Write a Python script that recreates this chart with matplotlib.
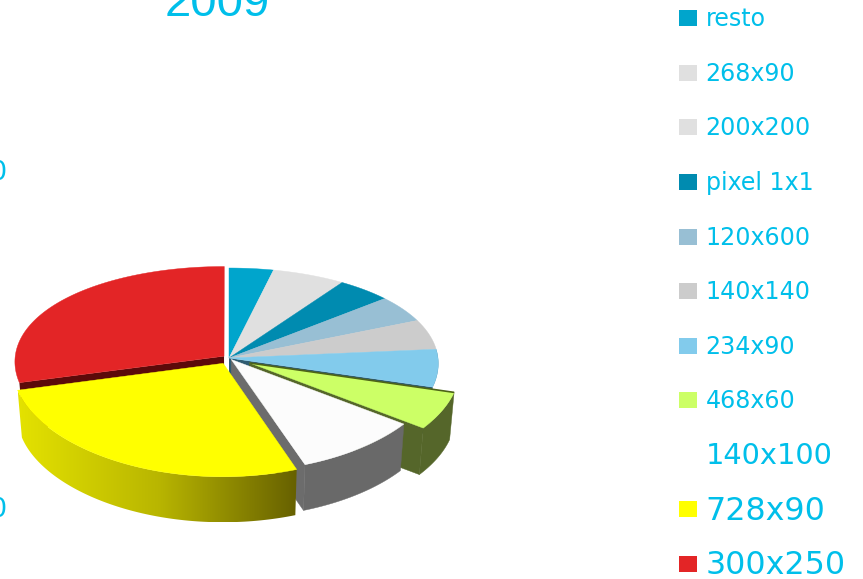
import numpy as np
import matplotlib
matplotlib.use("Agg")
import matplotlib.pyplot as plt
from matplotlib.colors import LinearSegmentedColormap
from matplotlib.patches import Polygon, Rectangle

# ---- data (clockwise from 12 o'clock) ----
labels = ["resto", "268x90", "200x200", "pixel 1x1", "120x600", "140x140", "234x90", "468x60", "140x100", "728x90", "300x250"]
shares = [3.6, 5.97, 0.0, 4.44, 4.58, 5.0, 5.97, 5.74, 9.28, 26.25, 29.17]
explode = [0, 0, 0, 0, 0, 0, 0, 0.11, 0.018, 0.06, 0.03]
top_colors = ["#00A5CC", "#E0E0E0", "#E0E0E0", "#008BB0", "#98BFD4", "#CCCCCC", "#82CBEC", "#CCFF66", "#FCFCFC", "#FFFF00", "#E32526"]
legend_swatches = ["#00A5CC", "#E0E0E0", "#E0E0E0", "#008BB0", "#98BFD4", "#CCCCCC", "#82CBEC", "#CCFF66", "#FFFFFF", "#FFFF00", "#E32526"]
legend_sizes = [17.1, 17.1, 17.1, 17.1, 17.1, 17.1, 17.1, 17.1, 20.8, 22.9, 22.9]
legend_y = [18, 73, 127, 182, 237, 291, 346, 400, 455, 509, 564]
title = "2009"
TEXT = "#00BFEA"

W, H = 863, 579
CX, CY, RX, RY = 229, 358, 209, 99.8
K, KX, DEPTH, BOTTOM = 0.109, 0.055, 0.48, 0.98

fig = plt.figure(figsize=(W / 100, H / 100), dpi=100)
ax = fig.add_axes([0, 0, 1, 1])
ax.set_xlim(-CX / RX, (W - CX) / RX)
ax.set_ylim(-(H - CY) / RY, CY / RY)
ax.axis("off")

edges = np.radians(np.concatenate([[0], np.cumsum(shares)]) * 3.6)


def project(X, Y, low=False):
    Y = np.asarray(Y)
    x, y = np.asarray(X) / (1 + KX * Y), Y / (1 + K * Y)
    return (x * BOTTOM, y * BOTTOM - DEPTH) if low else (x, y)


def slice_offset(i):
    mid = (edges[i] + edges[i + 1]) / 2
    return explode[i] * np.sin(mid), explode[i] * np.cos(mid)


def rim(i, a0=None, a1=None, low=False):
    ox, oy = slice_offset(i)
    t = np.linspace(edges[i] if a0 is None else a0, edges[i + 1] if a1 is None else a1, 90)
    return project(ox + np.sin(t), oy + np.cos(t), low)


def top(i, color, z):
    ox, oy = slice_offset(i)
    ax0, ay0 = project(ox, oy)
    x, y = rim(i)
    ax.fill(np.r_[ax0, x], np.r_[ay0, y], color=color, lw=0.3, zorder=z)


def outer_pts(i, a0=None, a1=None):
    x, y = rim(i, a0, a1)
    xl, yl = rim(i, a0, a1, low=True)
    return np.r_[x, xl[::-1]], np.r_[y, yl[::-1]]


def radial_pts(i, angle):
    ox, oy = slice_offset(i)
    X, Y = [ox, ox + np.sin(angle)], [oy, oy + np.cos(angle)]
    x, y = project(X, Y)
    xl, yl = project(X, Y, low=True)
    return np.r_[x, xl[::-1]], np.r_[y, yl[::-1]]


idx = {n: j for j, n in enumerate(labels)}
blue, green, white, yellow, red = (idx[n] for n in ["234x90", "468x60", "140x100", "728x90", "300x250"])

# back slices
for i in range(blue):
    top(i, top_colors[i], 2)

# small dark wall below the 234x90 slice
x, y = radial_pts(blue, edges[blue + 1])
ax.fill(x, y, color="#2F5B70", lw=0, zorder=3)
x, y = outer_pts(blue)
ax.fill(x, y, color="#2F5B70", lw=0, zorder=3)
top(blue, top_colors[blue], 4)

# 468x60
ox, oy = slice_offset(green)
x, y = radial_pts(green, edges[green + 1])
ax.fill(x, y, color="#55662A", lw=0.3, zorder=5)
x, y = outer_pts(green)
ax.fill(x, y, color="#55662A", lw=0.3, zorder=5)
x, y = project([ox, ox + np.sin(edges[green])], [oy, oy + np.cos(edges[green])])
top(green, top_colors[green], 6)
ax.plot(x, y, color="#4D6318", lw=1.2, zorder=6.5, solid_capstyle="butt")

# 140x100
x, y = outer_pts(white)
ax.fill(x, y, color="#696969", lw=0.3, zorder=7)
x, y = radial_pts(white, edges[white + 1])
ax.fill(x, y, color="#6C6C6C", lw=0.3, zorder=7)
top(white, top_colors[white], 8)

# 300x250 inner wall and top
x, y = radial_pts(red, edges[red])
ax.fill(x, y, color="#5C0A0A", lw=0, zorder=9)
top(red, top_colors[red], 10)

# 728x90 with gradient wall
x, y = outer_pts(yellow)
grad = LinearSegmentedColormap.from_list("wall", ["#E4E200", "#B9B600", "#666000"])
im = ax.imshow(np.linspace(0, 1, 256)[None, :], cmap=grad, aspect="auto",
               extent=(x.min(), x.max(), y.min(), y.max()), zorder=11)
poly = Polygon(np.c_[x, y], closed=True, transform=ax.transData, fc="none", ec="none")
ax.add_patch(poly)
im.set_clip_path(poly)
top(yellow, top_colors[yellow], 12)

ax.set_xlim(-CX / RX, (W - CX) / RX)
ax.set_ylim(-(H - CY) / RY, CY / RY)

# pixel-based overlay for text and legend
ov = fig.add_axes([0, 0, 1, 1], facecolor="none")
ov.set_xlim(0, W)
ov.set_ylim(H, 0)
ov.axis("off")

ov.text(217, 16, title, family="Liberation Sans", fontsize=34, color=TEXT, ha="center", va="baseline")
ov.text(6, 170, "0", fontsize=19.5, color=TEXT, ha="right", va="center_baseline")
ov.text(6, 507, "0", fontsize=19.5, color=TEXT, ha="right", va="center_baseline")

for name, col, fs, yc in zip(labels, legend_swatches, legend_sizes, legend_y):
    ov.add_patch(Rectangle((679, yc - 8), 18, 16, fc=col, ec="none"))
    ov.text(705.5, yc - 1.5, name, fontsize=fs, color=TEXT, ha="left", va="center_baseline")

fig.savefig("out.png", dpi=100)
